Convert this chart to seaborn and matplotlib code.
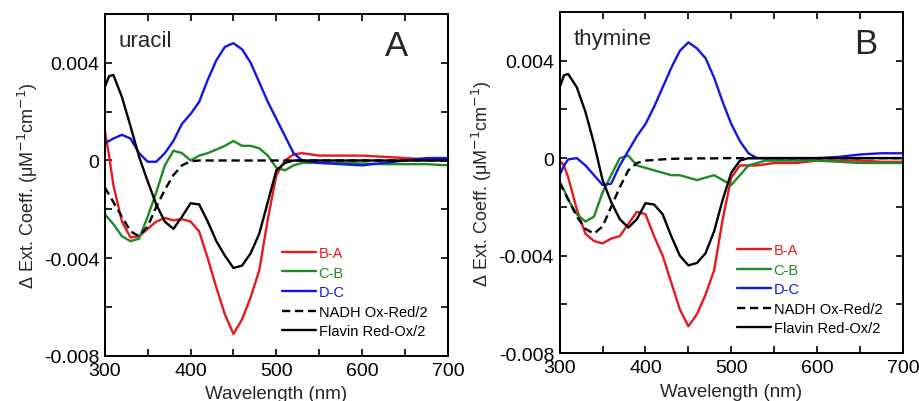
import numpy as np
import pandas as pd
import matplotlib
matplotlib.use("Agg")
import matplotlib.pyplot as plt
import seaborn as sns
from matplotlib.ticker import MultipleLocator, FuncFormatter

# wavelengths (nm)
wavelength = [300, 305, 310, 320, 330, 340, 350, 360, 370, 380, 390, 400, 410, 420, 430,
              440, 450, 460, 470, 480, 490, 500, 510, 520, 530, 540, 550, 575, 600, 625,
              650, 675, 700]

# difference spectra, in units of 1e-3 uM^-1 cm^-1
# panel A: uracil
uracil_ba = [1.25, 0.2, -1.0, -2.5, -3.15, -3.1, -2.8, -2.5, -2.35, -2.45, -2.4, -2.5, -2.9, -4.0, -5.2,
             -6.3, -7.1, -6.5, -5.6, -4.5, -2.4, -0.6, 0.0, 0.25, 0.3, 0.25, 0.2, 0.2, 0.2, 0.15,
             0.1, 0.05, 0.0]
uracil_cb = [-2.2, -2.4, -2.6, -3.1, -3.3, -3.2, -2.3, -1.3, -0.2, 0.4, 0.3, 0.0, 0.2, 0.3, 0.45,
             0.6, 0.8, 0.6, 0.6, 0.5, 0.2, -0.3, -0.4, -0.2, -0.1, -0.1, -0.1, -0.1, -0.12, -0.15,
             -0.15, -0.15, -0.2]
uracil_dc = [0.7, 0.8, 0.9, 1.05, 0.9, 0.3, -0.05, -0.05, 0.3, 0.8, 1.5, 1.9, 2.4, 3.3, 4.1,
             4.65, 4.8, 4.55, 4.0, 3.2, 2.4, 1.7, 1.0, 0.3, 0.0, -0.05, -0.1, -0.15, -0.2, -0.1,
             0.0, 0.1, 0.1]
uracil_nadh = [-1.1, -1.4, -1.7, -2.3, -2.9, -3.1, -2.7, -1.9, -1.2, -0.6, -0.2, -0.03, 0.0, 0.0, 0.0,
               0.0, 0.0, 0.0, 0.0, 0.0, 0.0, 0.0, 0.0, 0.0, 0.0, 0.0, 0.0, 0.0, 0.0, 0.0,
               0.0, 0.0, 0.0]
uracil_flavin = [3.0, 3.45, 3.5, 2.6, 1.4, 0.15, -0.85, -1.8, -2.5, -2.8, -2.3, -1.75, -1.8, -2.5, -3.3,
                 -3.9, -4.4, -4.3, -3.8, -3.0, -1.7, -0.4, -0.1, 0.0, 0.0, 0.0, 0.0, 0.0, 0.0, 0.0,
                 0.0, 0.0, 0.0]

# panel B: thymine
thymine_ba = [-0.1, -0.3, -0.8, -2.1, -3.1, -3.4, -3.5, -3.3, -3.2, -2.7, -2.2, -2.3, -3.2, -4.0, -5.1,
              -6.2, -6.9, -6.4, -5.6, -4.6, -2.5, -0.8, -0.3, -0.3, -0.3, -0.25, -0.2, -0.2, -0.1, -0.1,
              -0.1, -0.15, -0.15]
thymine_cb = [-1.0, -1.3, -1.7, -2.3, -2.6, -2.4, -1.4, -0.7, 0.0, 0.1, -0.3, -0.4, -0.5, -0.6, -0.7,
              -0.7, -0.8, -0.9, -0.8, -0.7, -0.9, -1.1, -0.7, -0.3, -0.2, -0.1, -0.1, -0.1, -0.1, -0.15,
              -0.2, -0.2, -0.2]
thymine_dc = [-0.7, -0.3, -0.05, 0.0, -0.3, -0.7, -1.1, -1.05, -0.3, 0.3, 0.9, 1.4, 2.1, 2.9, 3.7,
              4.4, 4.75, 4.5, 4.1, 3.3, 2.3, 1.4, 0.7, 0.2, 0.0, 0.0, 0.0, 0.0, 0.0, 0.05,
              0.15, 0.2, 0.2]
thymine_nadh = [-1.0, -1.35, -1.7, -2.4, -2.9, -3.1, -2.8, -2.0, -1.2, -0.5, -0.2, -0.1, -0.08, -0.05, -0.03,
                -0.02, -0.02, -0.01, -0.01, -0.01, 0.0, 0.0, 0.0, 0.0, 0.0, 0.0, 0.0, 0.0, 0.0, 0.0,
                0.0, 0.0, 0.0]
thymine_flavin = [2.9, 3.4, 3.45, 2.9, 1.9, 0.6, -0.9, -1.8, -2.5, -2.85, -2.5, -1.85, -1.9, -2.3, -3.2,
                  -4.0, -4.4, -4.3, -3.9, -3.0, -1.7, -0.6, -0.1, 0.0, 0.0, 0.0, 0.0, 0.0, 0.0, 0.0,
                  0.0, 0.0, 0.0]

labels = ["B-A", "C-B", "D-C", "NADH Ox-Red/2", "Flavin Red-Ox/2"]
colors = ["#e8191c", "#1f8a24", "#1414e6", "black", "black"]

sns.set_style("ticks")
plt.rcParams["font.family"] = ["Liberation Sans", "DejaVu Sans"]
plt.rcParams["axes.unicode_minus"] = False

fig = plt.figure(figsize=(9.19, 4.02), dpi=100)
ax_a = fig.add_axes([0.114, 0.112, 0.3735, 0.851])
ax_b = fig.add_axes([0.609, 0.119, 0.3735, 0.849])


def draw_panel(ax, series, name, letter, letter_x):
    for vals, lab, col in zip(series, labels, colors):
        y = np.array(vals) * 1e-3
        if lab.startswith("NADH"):
            sns.lineplot(x=wavelength, y=y, ax=ax, color=col, lw=1.7, dashes=False,
                         linestyle=(0, (3.5, 2)), label=lab)
        else:
            sns.lineplot(x=wavelength, y=y, ax=ax, color=col, lw=1.7, label=lab)
    ax.set_xlim(300, 700)
    ax.set_ylim(-0.008, 0.006)
    ax.xaxis.set_major_locator(MultipleLocator(100))
    ax.xaxis.set_minor_locator(MultipleLocator(50))
    ax.yaxis.set_major_locator(MultipleLocator(0.004))
    ax.yaxis.set_minor_locator(MultipleLocator(0.002))
    ax.yaxis.set_major_formatter(FuncFormatter(lambda v, p: "0" if abs(v) < 1e-9 else f"{v:.3f}"))
    ax.tick_params(which="both", direction="in", top=True, right=True, length=5, width=1.2,
                   labelsize=14, pad=4, colors="black")
    for sp in ax.spines.values():
        sp.set_linewidth(1.4)
        sp.set_color("black")
    ax.set_xlabel("Wavelength (nm)", fontsize=13.5, labelpad=5)
    ax.set_ylabel("Δ Ext. Coeff. (μM$^{-1}$cm$^{-1}$)", fontsize=13, labelpad=3)
    ax.text(0.04, 0.905, name, transform=ax.transAxes, fontsize=16)
    ax.text(letter_x, 0.88, letter, transform=ax.transAxes, fontsize=25, ha="right")
    ax.legend(loc="lower left", bbox_to_anchor=(0.5, 0.035), frameon=False, fontsize=10.5,
              labelcolor="linecolor", handlelength=2.3, handletextpad=0.2, labelspacing=0.38,
              borderaxespad=0)


draw_panel(ax_a, [uracil_ba, uracil_cb, uracil_dc, uracil_nadh, uracil_flavin], "uracil", "A", 0.885)
draw_panel(ax_b, [thymine_ba, thymine_cb, thymine_dc, thymine_nadh, thymine_flavin], "thymine", "B", 0.925)

fig.savefig("out.png", dpi=100)
